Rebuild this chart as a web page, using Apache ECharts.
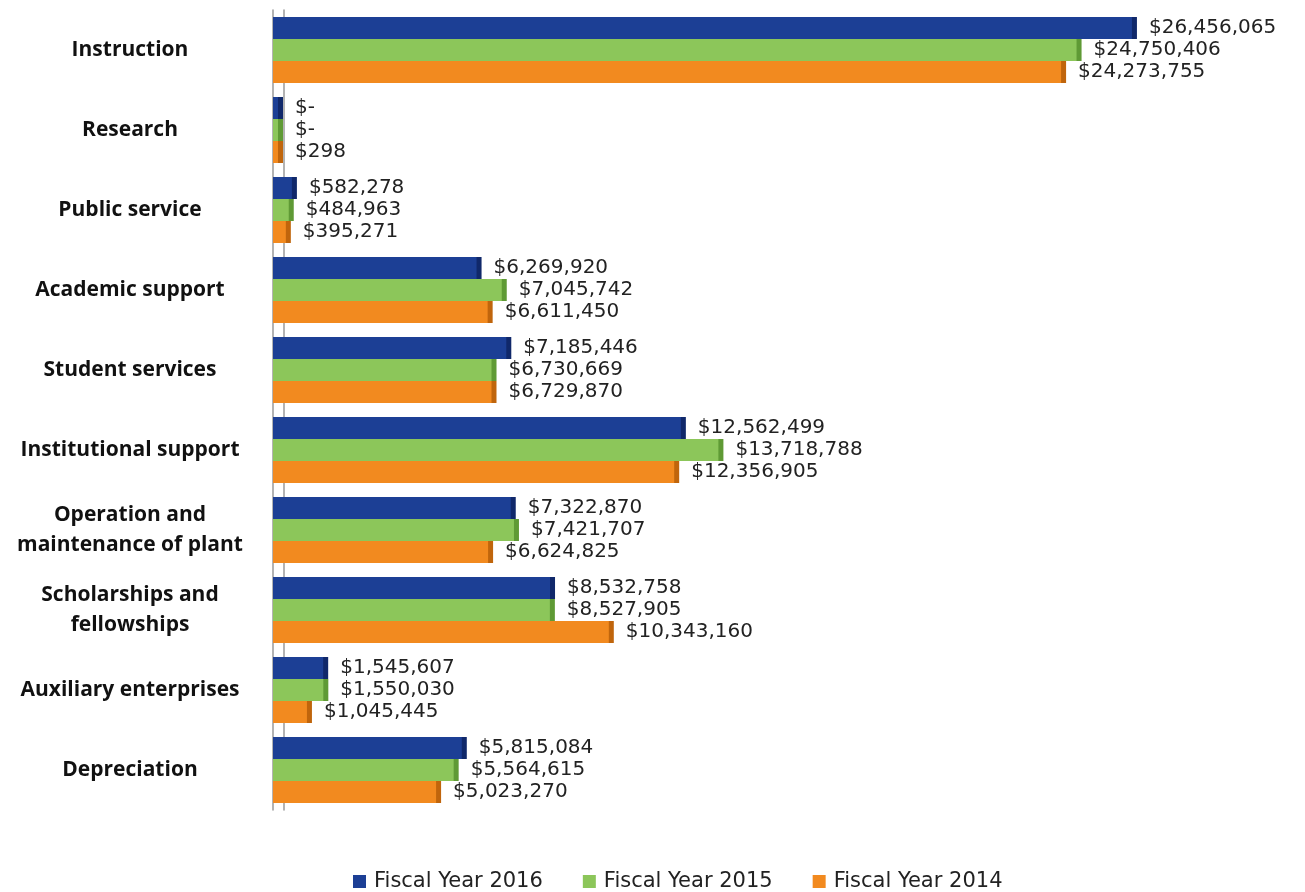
<!DOCTYPE html>
<html>
<head>
<meta charset="utf-8">
<script src="https://cdn.jsdelivr.net/npm/echarts@6/dist/echarts.min.js"></script>
<style>
  html, body { margin: 0; padding: 0; background: #ffffff; }
  #chart { width: 1305px; height: 892px; }
</style>
</head>
<body>
<div id="chart"></div>
<script>
// Expense categories, top to bottom
const categories = [
  'Instruction',
  'Research',
  'Public service',
  'Academic support',
  'Student services',
  'Institutional support',
  'Operation and\nmaintenance of plant',
  'Scholarships and\nfellowships',
  'Auxiliary enterprises',
  'Depreciation'
];

const seriesNames = ['Fiscal Year 2016', 'Fiscal Year 2015', 'Fiscal Year 2014'];

const fy2016 = [26456065, 0, 582278, 6269920, 7185446, 12562499, 7322870, 8532758, 1545607, 5815084];
const fy2015 = [24750406, 0, 484963, 7045742, 6730669, 13718788, 7421707, 8527905, 1550030, 5564615];
const fy2014 = [24273755, 298, 395271, 6611450, 6729870, 12356905, 6624825, 10343160, 1045445, 5023270];

// Face colour of each bar and the darker colour of its end cap
const palette = [
  { face: '#1c3f95', side: '#10286a' },
  { face: '#8cc65a', side: '#5f9a35' },
  { face: '#f28a1f', side: '#c0650c' }
];

function money(v) {
  return v === 0 ? '$-' : '$' + v.toLocaleString('en-US');
}

const chart = echarts.init(document.getElementById('chart'));

const series = [fy2016, fy2015, fy2014].map((values, i) => ({
  name: seriesNames[i],
  type: 'bar',
  data: values,
  barWidth: 22,
  barGap: '0%',
  barMinHeight: 5,
  itemStyle: {
    color: palette[i].face,
    shadowColor: palette[i].side,
    shadowBlur: 0,
    shadowOffsetX: 5,
    shadowOffsetY: 0
  },
  label: {
    show: true,
    position: 'right',
    distance: 17,
    formatter: p => money(p.value),
    fontFamily: 'DejaVu Sans',
    fontSize: 20,
    color: '#222222'
  }
}));

chart.setOption({
  backgroundColor: '#ffffff',
  animation: false,
  grid: { left: 273, right: 58, top: 10, bottom: 82, containLabel: false },
  xAxis: {
    type: 'value',
    min: 0,
    max: 30000000,
    show: false
  },
  yAxis: [
    {
      type: 'category',
      data: categories,
      inverse: true,
      offset: 7,
      axisLine: { show: true, lineStyle: { color: '#9a9a9a', width: 1.5 } },
      axisTick: { show: false },
      axisLabel: {
        margin: 136,
        align: 'center',
        fontFamily: 'Open Sans',
        fontWeight: 'bold',
        fontSize: 21,
        lineHeight: 30,
        color: '#111111'
      }
    },
    {
      type: 'category',
      data: categories,
      inverse: true,
      position: 'left',
      offset: -11,
      axisLine: { show: true, lineStyle: { color: '#9a9a9a', width: 1.5 } },
      axisTick: { show: false },
      axisLabel: { show: false }
    }
  ],
  legend: {
    data: seriesNames,
    left: 348,
    top: 866,
    itemWidth: 13,
    itemHeight: 13,
    itemGap: 40,
    icon: 'rect',
    textStyle: {
      fontFamily: 'DejaVu Sans',
      fontSize: 21,
      color: '#222222',
      padding: [0, 0, 0, 3]
    }
  },
  series: series
});
</script>
</body>
</html>
